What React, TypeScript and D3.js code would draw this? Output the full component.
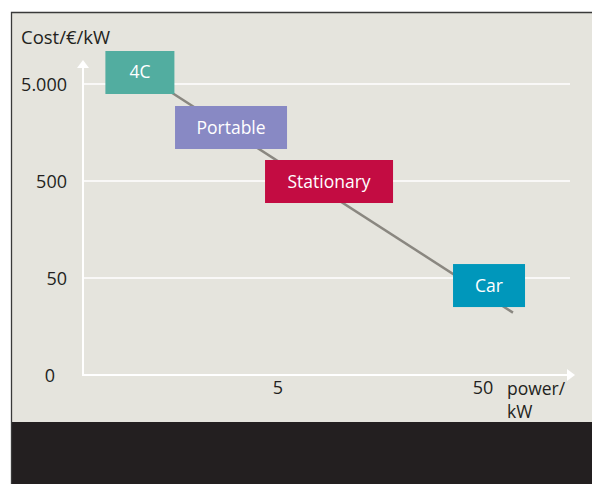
import { useEffect, useRef } from 'react';
import * as d3 from 'd3';

// y ticks (log scale, "0" sits on the baseline)
const costTicks = [5000, 500, 50, 5];
const costTickLabels = ['5.000', '500', '50', '0'];
// x ticks
const powerTicks = [5, 50];
const powerTickLabels = ['5', '50'];

// trend line (power kW, cost €/kW)
const trendPower = [1.2, 70];
const trendCost = [5600, 22];

// categories placed along the trend
const categories = ['4C', 'Portable', 'Stationary', 'Car'];
const catPower = [1.06, 2.95, 8.87, 53.5];
const catCost = [6570, 1780, 494, 41.8];

const catColors = ['#52ada0', '#8889c4', '#c30c42', '#0097bb'];
const boxWidths = [69, 112, 128, 72];

const W = 592;
const H = 484;
const FONT = '"Open Sans", sans-serif';

export default function App() {
  const svgRef = useRef<SVGSVGElement>(null);

  useEffect(() => {
    if (!svgRef.current) return;
    const svg = d3.select(svgRef.current);
    svg.selectAll('*').remove();

    const x = d3.scaleLog().domain([5, 50]).range([278, 483]);
    const y = d3.scaleLog().domain([5000, 50]).range([84, 278]);
    const x0 = 83;
    const yBase = y(5);

    // frame + panel
    svg.append('rect').attr('x', 0).attr('y', 0).attr('width', W).attr('height', H).attr('fill', '#fff');
    svg.append('rect').attr('x', 11).attr('y', 12).attr('width', W - 11).attr('height', H - 12).attr('fill', '#e5e4dd');
    svg.append('rect').attr('x', 11).attr('y', 422).attr('width', W - 11).attr('height', H - 422).attr('fill', '#231f20');
    svg.append('path')
      .attr('d', `M11.5,${H} L11.5,12.5 L${W},12.5`)
      .attr('fill', 'none')
      .attr('stroke', '#3a3a3a')
      .attr('stroke-width', 1.3);

    // gridlines
    svg.selectAll('.grid')
      .data(costTicks.slice(0, 3))
      .enter()
      .append('line')
      .attr('x1', x0)
      .attr('x2', 570)
      .attr('y1', d => y(d))
      .attr('y2', d => y(d))
      .attr('stroke', '#fff')
      .attr('stroke-width', 1.5);

    // axes with arrows
    svg.append('line').attr('x1', x0).attr('x2', x0).attr('y1', yBase).attr('y2', 66)
      .attr('stroke', '#fff').attr('stroke-width', 2);
    svg.append('path').attr('d', `M${x0},60 L${x0 - 6},68 L${x0 + 6},68 Z`).attr('fill', '#fff');
    svg.append('line').attr('x1', x0 - 1).attr('x2', 568).attr('y1', yBase).attr('y2', yBase)
      .attr('stroke', '#fff').attr('stroke-width', 2);
    svg.append('path').attr('d', `M575,${yBase} L567,${yBase - 6} L567,${yBase + 6} Z`).attr('fill', '#fff');

    // y tick labels
    svg.selectAll('.ylab')
      .data(costTicks)
      .enter()
      .append('text')
      .attr('x', (d, i) => (i === 3 ? 55 : 67))
      .attr('y', d => y(d) + 7)
      .attr('text-anchor', 'end')
      .attr('font-family', FONT)
      .attr('font-size', 18)
      .attr('fill', '#231f20')
      .text((d, i) => costTickLabels[i]);

    // x tick labels
    svg.selectAll('.xlab')
      .data(powerTicks)
      .enter()
      .append('text')
      .attr('x', d => x(d))
      .attr('y', 394)
      .attr('text-anchor', 'middle')
      .attr('font-family', FONT)
      .attr('font-size', 18)
      .attr('fill', '#231f20')
      .text((d, i) => powerTickLabels[i]);

    // axis titles
    svg.append('text').attr('x', 21).attr('y', 44)
      .attr('font-family', FONT).attr('font-size', 18.5).attr('fill', '#231f20')
      .text('Cost/€/kW');
    svg.append('text').attr('x', 507).attr('y', 395)
      .attr('font-family', FONT).attr('font-size', 17.5).attr('fill', '#231f20')
      .text('power/');
    svg.append('text').attr('x', 507).attr('y', 418)
      .attr('font-family', FONT).attr('font-size', 17.5).attr('fill', '#231f20')
      .text('kW');

    // trend line
    const line = d3.line<number>()
      .x((d, i) => x(trendPower[i]))
      .y(d => y(d));
    svg.append('path')
      .attr('d', line(trendCost))
      .attr('fill', 'none')
      .attr('stroke', '#8a8780')
      .attr('stroke-width', 2.5);

    // category boxes
    const boxH = 43;
    const g = svg.selectAll('.cat')
      .data(categories)
      .enter()
      .append('g')
      .attr('transform', (d, i) => `translate(${x(catPower[i])},${y(catCost[i])})`);
    g.append('rect')
      .attr('x', (d, i) => -boxWidths[i] / 2)
      .attr('y', -boxH / 2)
      .attr('width', (d, i) => boxWidths[i])
      .attr('height', boxH)
      .attr('fill', (d, i) => catColors[i]);
    g.append('text')
      .attr('text-anchor', 'middle')
      .attr('y', 6)
      .attr('font-family', FONT)
      .attr('font-size', 17.5)
      .attr('fill', '#fff')
      .text(d => d);
  }, []);

  return (
    <div style={{ position: 'absolute', left: 0, top: 0 }}>
      <svg ref={svgRef} width={W} height={H} style={{ display: 'block' }} />
    </div>
  );
}
